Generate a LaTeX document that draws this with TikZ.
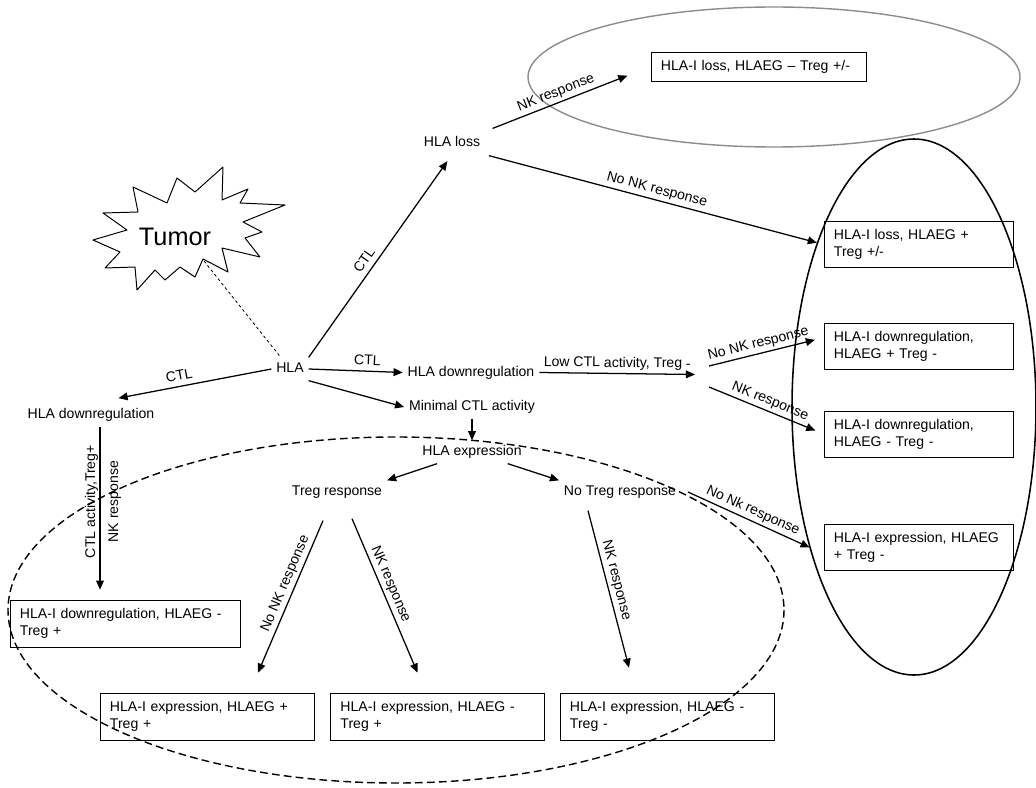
\documentclass[tikz,border=0pt]{standalone}
\usepackage{fontspec}
\setmainfont{Liberation Sans}
\usetikzlibrary{arrows.meta,calc}
\tikzset{txt/.style={inner sep=3.33pt,text height=7.5pt,text depth=2pt},
        res/.style={draw,align=left,inner xsep=0.25cm,text width=#1,minimum height=1.15cm},
        arr/.style={-{Triangle[length=6.5pt,width=5.5pt]},line width=0.9pt},
        lab/.style={sloped,above,inner sep=2pt,text height=7.5pt,text depth=2pt}}
\begin{document}
\begin{tikzpicture}[x=0.025cm,y=-0.025cm,font=\fontsize{10}{12}\selectfont]
\useasboundingbox (0,0) rectangle (1036,787);
% groups of outcomes
\draw[black!45,line width=1pt] (774,77) ellipse (246 and 70);
\draw[line width=1.1pt] (914,407) ellipse (122 and 268);
\draw[line width=1pt,dash pattern=on 5.5pt off 3pt] (396,610) ellipse (388 and 173);
% tumor
\draw[line width=0.7pt,line join=round] (93,240) -- (127,230) -- (103,213) -- (138,212)
  -- (133,187) -- (167,203) -- (177,178) -- (195,192) -- (223,167) -- (222,200)
  -- (248,189) -- (240,203) -- (285,205) -- (243,222) -- (262,232) -- (245,238)
  -- (260,257) -- (222,248) -- (228,272) -- (203,259) -- (195,277) -- (180,267)
  -- (165,280) -- (155,270) -- (137,290) -- (135,267) -- (105,268) -- (120,252) -- cycle;
\node (tumor) at (175,237) {\fontsize{18}{20}\selectfont Tumor};
\coordinate (tip) at (204,261);

\node[txt] (hla) at (290,369) {HLA};
\node[txt] (loss) at (452,143) {HLA loss};
\node[txt] (downR) at (471,372.5) {HLA downregulation};
\node[txt] (minCTL) at (472,407) {Minimal CTL activity};
\node[txt] (expr) at (472,452) {HLA expression};
\node[txt] (downL) at (91,415) {HLA downregulation};
\node[txt] (treg) at (337,492) {Treg response};
\node[txt] (noTreg) at (620,492) {No Treg response};

\node[res=4.875cm,minimum height=0.725cm] (resLossNK) at (758.5,66.5) {HLA-I loss, HLAEG -- Treg +/-};
\node[res=4.225cm] (resLossNoNK) at (918.5,244.5) {HLA-I loss, HLAEG +\\Treg +/-};
\node[res=4.225cm] (resDownNoNK) at (918.5,346) {HLA-I downregulation,\\HLAEG + Treg -};
\node[res=4.225cm] (resDownNK) at (918.5,434) {HLA-I downregulation,\\HLAEG - Treg -};
\node[res=4.225cm] (resExprNoNK) at (918.5,547.5) {HLA-I expression, HLAEG\\+ Treg -};
\node[res=5.25cm,minimum height=1.175cm] (resDownL) at (125,623.5) {HLA-I downregulation, HLAEG -\\Treg +};
\node[res=4.85cm,minimum height=1.175cm] (resTregNoNK) at (207,716.5) {HLA-I expression, HLAEG +\\Treg +};
\node[res=4.85cm,minimum height=1.175cm] (resTregNK) at (437.5,716.5) {HLA-I expression, HLAEG -\\Treg +};
\node[res=4.85cm,minimum height=1.175cm] (resNoTregNK) at (667,716.5) {HLA-I expression, HLAEG -\\Treg -};

\coordinate (lowEnd) at (695,374.5);
\coordinate (nkUp) at (709,366);
\coordinate (nkDown) at (709,387);

\draw[dash pattern=on 2pt off 2pt,line width=0.6pt] (tip) -- (hla);
\draw[arr,shorten >=0.2cm] (hla.north east) -- node[lab,pos=0.45]{CTL} (loss.south);
\draw[arr] (hla.east) -- node[lab,pos=0.62]{CTL} (downR.west);
\draw[arr] (hla.south east) -- (minCTL.west);
\draw[arr,shorten >=0.7cm] (hla.west) -- node[lab]{CTL} (downL.north);
\draw[arr,shorten <=0.2cm,shorten >=0.625cm] (loss.north east) -- node[lab,pos=0.45]{NK response} (resLossNK.west);
\draw[arr,shorten <=0.1cm,shorten >=0.175cm] (loss.south east) -- node[lab]{No NK response} (resLossNoNK.west);
\draw[arr] (downR.east) -- node[lab]{Low CTL activity, Treg -} (lowEnd);
\draw[arr,shorten >=0.225cm] (nkUp) -- node[lab,pos=0.45]{No NK response} (resDownNoNK.175);
\draw[arr,shorten >=0.225cm] (nkDown) -- node[lab]{NK response} (resDownNK.west);
\draw[arr] (minCTL) -- (expr);
\draw[arr] (expr) -- (treg.north east);
\draw[arr] (expr) -- (noTreg.north west);
\draw[arr] ($(treg.south)+(-14,17)$) -- node[lab,pos=0.44]{No NK response} ($(resTregNoNK.north)+(51,-20)$);
\draw[arr] ($(treg.south)+(15,15)$) -- node[lab,pos=0.45]{NK response} ($(resTregNK.north)+(-20,-20)$);
\draw[arr] ($(noTreg.south)+(-32,7)$) -- node[lab,pos=0.46]{NK response} ($(resNoTregNK.north)+(-38,-25)$);
\draw[arr] ($(noTreg.east)+(7,0)$) -- node[lab]{No Nk response} ($(resExprNoNK.west)+(-14,0)$);
\draw[arr] ($(downL.south)+(9,0)$) -- node[txt,pos=0.46,rotate=90,anchor=south,inner sep=1pt]{CTL activity,Treg+}
  node[txt,pos=0.46,rotate=90,anchor=north,inner sep=5pt]{NK response} ($(resDownL.north)+(-25,-10)$);
\end{tikzpicture}
\end{document}
